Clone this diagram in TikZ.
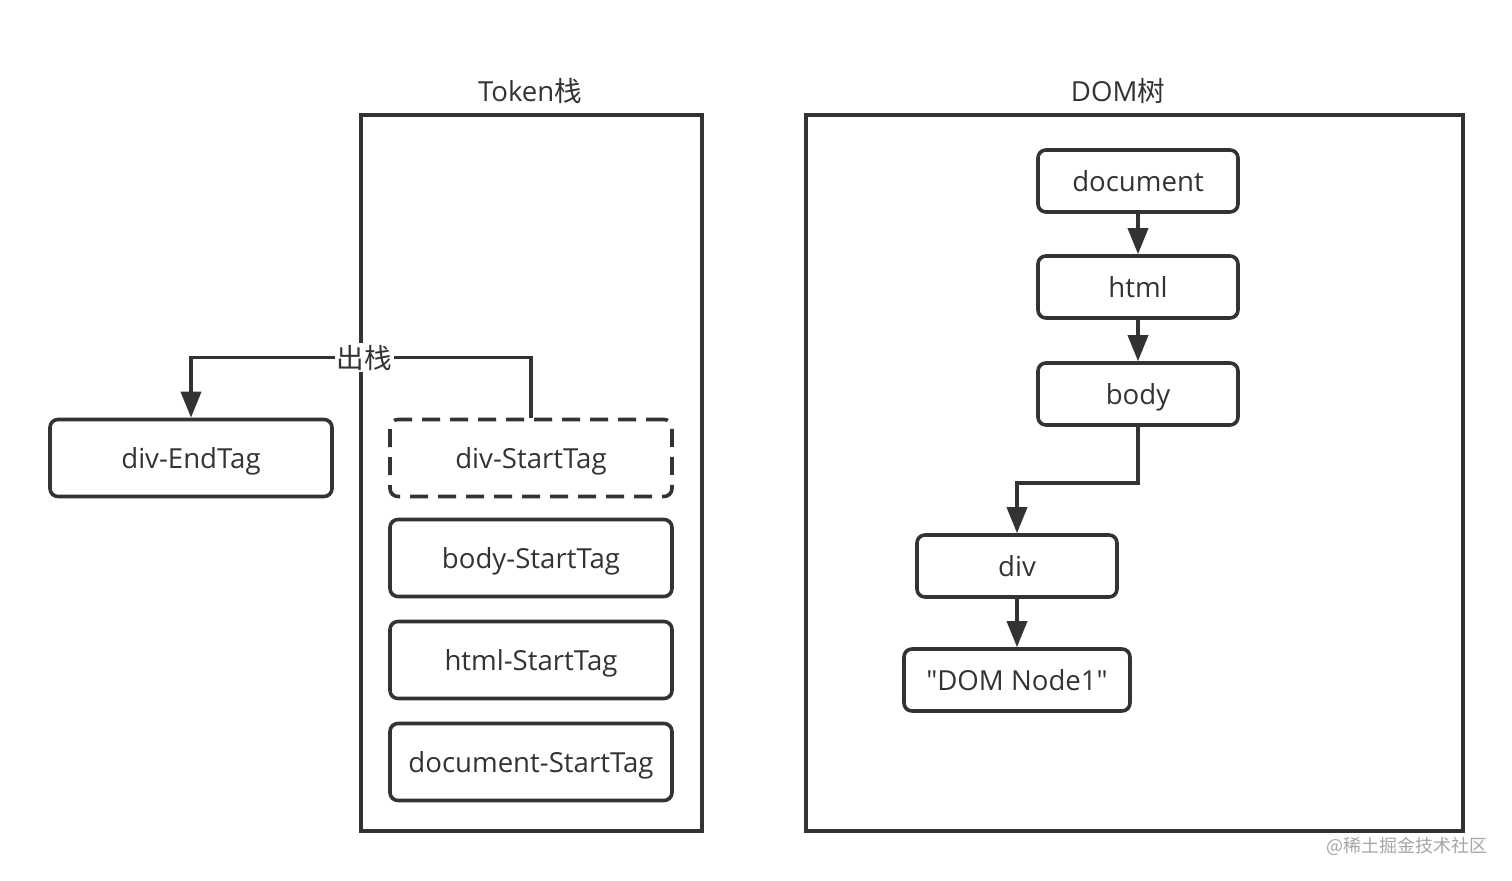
\documentclass[tikz,border=0pt]{standalone}
\usepackage{fontspec}
\setmainfont{Open Sans}[Ligatures=TeXOff]
\newfontfamily\cjk{Noto Sans CJK SC}
\usetikzlibrary{arrows.meta}

\definecolor{ink}{HTML}{333333}

\tikzset{
	box/.style={draw=ink,line width=1.8pt,rounded corners=4pt,minimum width=141pt,minimum height=38.5pt,inner sep=0pt,text height=14pt,text depth=3pt,text=ink,font=\fontsize{13.8}{16}\selectfont},
	frame/.style={draw=ink,line width=1.8pt,inner sep=0pt},
	title/.style={text=ink,font=\fontsize{13.8}{16}\selectfont},
	conn/.style={draw=ink,line width=1.8pt,-{Triangle[width=10pt,length=13pt]}}
}

\begin{document}
\begin{tikzpicture}[x=0.5pt,y=-0.5pt]

	\useasboundingbox (0,0) rectangle (1512,881);

	% Token stack
	\node[frame,minimum width=170.5pt,minimum height=358pt] (tokstack) at (531.5,473) {};
	\node[title] (toktitle) at (530,91) {Token{\cjk 栈}};

	\node[box] (divend) at (191,458) {div-EndTag};
	\node[box,dashed,dash pattern=on 9pt off 5pt] (divstart) at (531,458) {div-StartTag};
	\node[box] (bodystart) at (531,558) {body-StartTag};
	\node[box] (htmlstart) at (531,660) {html-StartTag};
	\node[box] (docstart) at (531,762) {document-StartTag};

	\draw[conn] (divstart.north) -- ++(0,-60) -| node[pos=0.245,fill=white,inner sep=1pt,title] (poplbl) {\cjk 出栈} (divend.north);

	% DOM tree
	\begin{scope}
		\node[frame,minimum width=328.5pt,minimum height=358pt] (domtree) at (1134.5,473) {};
		\node[title] (domtitle) at (1118,91) {DOM{\cjk 树}};

		\node[box,minimum width=100pt,minimum height=31pt] (document) at (1138,181) {document};
		\node[box,minimum width=100pt,minimum height=31pt] (html) at (1138,287) {html};
		\node[box,minimum width=100pt,minimum height=31pt] (body) at (1138,394) {body};
		\node[box,minimum width=100pt,minimum height=31pt] (div) at (1017,566) {div};
		\node[box,minimum width=113pt,minimum height=31pt] (textnode) at (1017,680) {"DOM Node1"};

		\draw[conn] (document) -- (html);
		\draw[conn] (html) -- (body);
		\draw[conn] (body.south) -- ++(0,56) -| (div.north);
		\draw[conn] (div) -- (textnode);
	\end{scope}

	\node[text=black!35,font=\cjk\fontsize{9}{11}\selectfont] (mark) at (1407,846) {@稀土掘金技术社区};

\end{tikzpicture}
\end{document}
